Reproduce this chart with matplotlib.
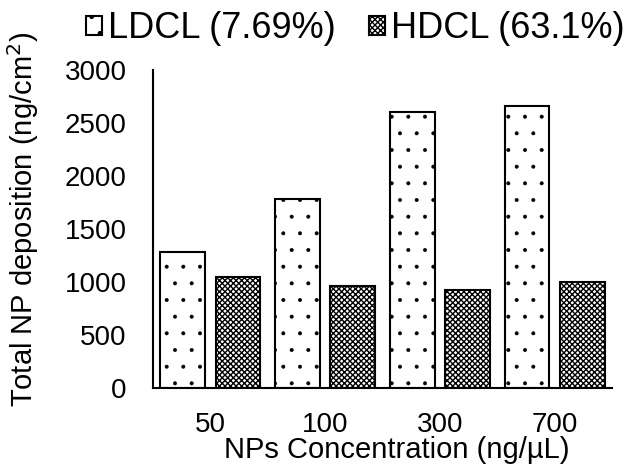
import numpy as np
import matplotlib
matplotlib.use("Agg")
import matplotlib.pyplot as plt

plt.rcParams['font.family'] = ['Liberation Sans', 'DejaVu Sans']

concentrations = ["50", "100", "300", "700"]
ldcl = [1280, 1780, 2605, 2660]
hdcl = [1050, 960, 925, 1000]

x = np.arange(len(concentrations))
w = 0.39

fig = plt.figure(figsize=(6.36, 4.65), dpi=100)
ax = fig.add_axes([0.2406, 0.1656, 0.7217, 0.684])

with plt.rc_context({'hatch.linewidth': 0.4}):
    ax.bar(x - 0.24, ldcl, w, color="white", edgecolor="black", linewidth=1.5,
           hatch=".", label="LDCL (7.69%)")
with plt.rc_context({'hatch.linewidth': 1.0}):
    ax.bar(x + 0.24, hdcl, w, color="white", edgecolor="black", linewidth=1.5,
           hatch="xxxxxx", label="HDCL (63.1%)")

ax.set_xlim(-0.5, 3.5)
ax.set_ylim(0, 3000)
ax.set_yticks(range(0, 3001, 500))
ax.set_xticks(x)
ax.set_xticklabels(concentrations)
ax.tick_params(axis="both", length=0, labelsize=20)
ax.tick_params(axis="x", pad=17)
ax.tick_params(axis="y", pad=19)
for s in ["top", "right"]:
    ax.spines[s].set_visible(False)
for s in ["left", "bottom"]:
    ax.spines[s].set_linewidth(1.5)

ax.set_xlabel("NPs Concentration (ng/µL)", fontsize=21)
ax.xaxis.set_label_coords(0.53, -0.15)
ax.set_ylabel("Total NP deposition (ng/cm$^2$)", fontsize=21)
ax.yaxis.set_label_coords(-0.245, 0.53)

ax.legend(loc="center left", bbox_to_anchor=(-0.146, 1.13), ncol=2, frameon=False,
          fontsize=26, handlelength=0.45, handleheight=0.45, handletextpad=0.17,
          columnspacing=0.9, borderpad=0, borderaxespad=0)

fig.savefig("out.png", dpi=100)
